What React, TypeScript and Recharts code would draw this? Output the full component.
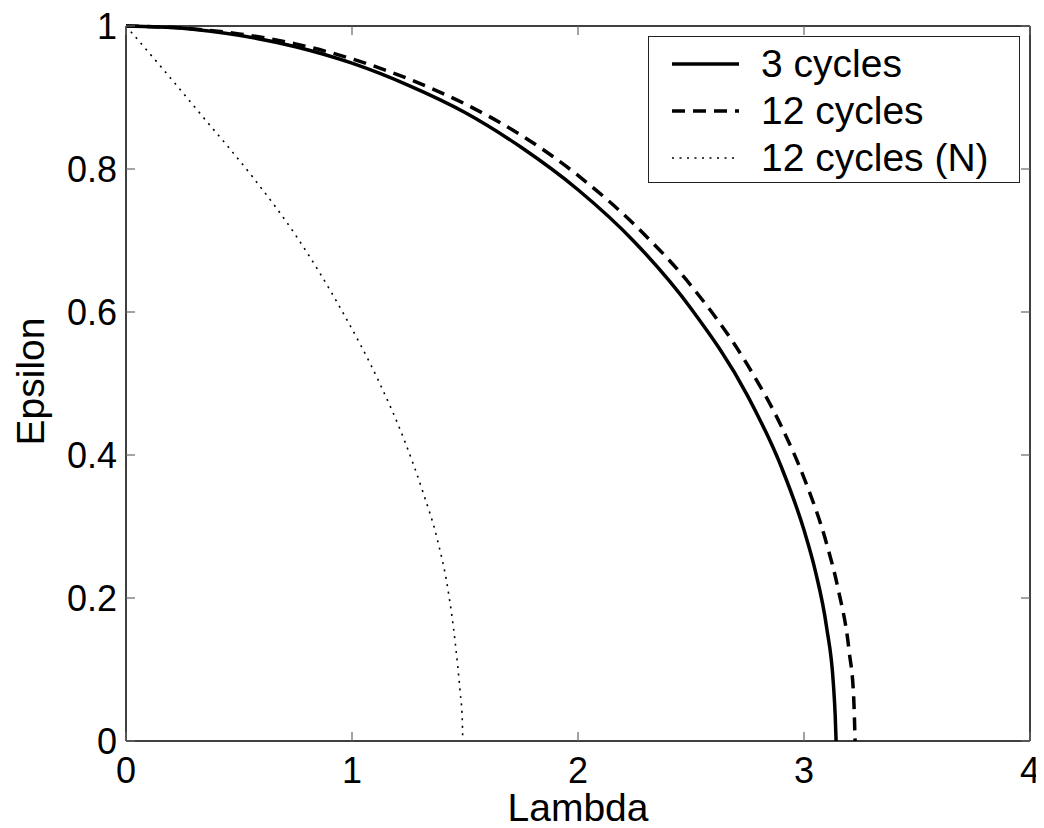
import React from 'react';
import { LineChart, Line, XAxis, YAxis, Legend, Label } from 'recharts';

// lambda / epsilon pairs
const SOLID_LAMBDA = [0, 0.25, 0.5, 0.75, 1.0, 1.25, 1.5, 1.75, 2.0, 2.25, 2.5, 2.75, 2.9, 3.0, 3.05, 3.1, 3.13, 3.138, 3.142];
const SOLID_EPS = [1, 0.997, 0.987, 0.971, 0.948, 0.917, 0.879, 0.83, 0.771, 0.698, 0.605, 0.483, 0.383, 0.295, 0.238, 0.159, 0.08, 0.036, 0];

const DASH_LAMBDA = [0, 0.25, 0.5, 0.75, 1.0, 1.25, 1.5, 1.75, 2.0, 2.25, 2.5, 2.75, 2.9, 3.0, 3.1, 3.15, 3.2, 3.22, 3.226];
const DASH_EPS = [1, 0.997, 0.989, 0.975, 0.954, 0.926, 0.891, 0.847, 0.791, 0.722, 0.637, 0.526, 0.44, 0.368, 0.276, 0.214, 0.125, 0.06, 0];

const DOT_LAMBDA = [0, 0.16, 0.34, 0.56, 0.76, 0.96, 1.12, 1.235, 1.315, 1.375, 1.425, 1.457, 1.478, 1.488, 1.49];
const DOT_EPS = [1, 0.941, 0.873, 0.789, 0.703, 0.599, 0.502, 0.418, 0.347, 0.285, 0.211, 0.137, 0.07, 0.03, 0];

const X_TICKS = [0, 1, 2, 3, 4];
const Y_TICKS = [0, 0.2, 0.4, 0.6, 0.8, 1];

const SERIES_NAMES = ['3 cycles', '12 cycles', '12 cycles (N)'];
const SERIES_DASH = [undefined, '13 8', '2 5.5'];
const SERIES_WIDTH = [3.5, 3.5, 1.6];
// top/right axes share the same domain & range as bottom/left; the dotted curve
// is bound to them so those axes get data and draw their tick marks
const SERIES_X_AXIS = ['bottom', 'bottom', 'top'];
const SERIES_Y_AXIS = ['left', 'left', 'right'];

const FONT = '"Liberation Sans", Arial, Helvetica, sans-serif';
const TICK_COLOR = '#666';
const TICK_LEN = 9;

const toPoints = (xs: number[], ys: number[]) => xs.map((x, i) => ({ lambda: x, eps: ys[i] }));

const seriesData = [
  toPoints(SOLID_LAMBDA, SOLID_EPS),
  toPoints(DASH_LAMBDA, DASH_EPS),
  toPoints(DOT_LAMBDA, DOT_EPS),
];

// tick marks point inwards on every side, matlab style
const BottomTick = (props: any) => {
  const { x, y, payload } = props;
  return (
    <g>
      <line x1={x} x2={x} y1={y} y2={y - TICK_LEN} stroke={TICK_COLOR} strokeWidth={1.2} />
      <text x={x} y={y + 42} textAnchor="middle" fontSize={36} fontFamily={FONT} fill="#000">
        {payload.value}
      </text>
    </g>
  );
};

const TopTick = (props: any) => {
  const { x, y } = props;
  return <line x1={x} x2={x} y1={y} y2={y + TICK_LEN} stroke={TICK_COLOR} strokeWidth={1.2} />;
};

const LeftTick = (props: any) => {
  const { x, y, payload } = props;
  return (
    <g>
      <line x1={x} x2={x + TICK_LEN} y1={y} y2={y} stroke={TICK_COLOR} strokeWidth={1.2} />
      <text x={x - 9} y={y + 13} textAnchor="end" fontSize={36} fontFamily={FONT} fill="#000">
        {payload.value}
      </text>
    </g>
  );
};

const RightTick = (props: any) => {
  const { x, y } = props;
  return <line x1={x} x2={x - TICK_LEN} y1={y} y2={y} stroke={TICK_COLOR} strokeWidth={1.2} />;
};

const LegendBox = () => (
  <div
    style={{
      width: 372,
      height: 147,
      boxSizing: 'border-box',
      border: '1.5px solid #222',
      background: '#fff',
      fontFamily: FONT,
      fontSize: 39,
      position: 'relative',
    }}
  >
    {SERIES_NAMES.map((name, i) => (
      <div
        key={name}
        style={{ position: 'absolute', left: 0, top: 5 + i * 47, height: 44, display: 'flex', alignItems: 'center' }}
      >
        <svg width={112} height={44}>
          <line
            x1={23}
            x2={90}
            y1={22}
            y2={22}
            stroke="#000"
            strokeWidth={SERIES_WIDTH[i]}
            strokeDasharray={SERIES_DASH[i]}
          />
        </svg>
        <span style={{ lineHeight: '44px', color: '#000' }}>{name}</span>
      </div>
    ))}
  </div>
);

export default function App() {
  return (
    <LineChart width={1028} height={820} margin={{ top: 17, right: 5, left: 0, bottom: 0 }}>
      <XAxis
        xAxisId="bottom"
        dataKey="lambda"
        type="number"
        domain={[0, 4]}
        ticks={X_TICKS}
        orientation="bottom"
        height={87}
        tickLine={false}
        tickSize={0}
        tickMargin={0}
        axisLine={{ stroke: '#000', strokeWidth: 1.5 }}
        tick={(p: any) => <BottomTick {...p} />}
        interval={0}
      >
        <Label
          content={(p: any) => {
            const vb = p.viewBox;
            return (
              <text x={vb.x + vb.width / 2} y={vb.y + vb.height - 7} textAnchor="middle" fontSize={39} fontFamily={FONT} fill="#000">
                Lambda
              </text>
            );
          }}
        />
      </XAxis>
      <XAxis
        xAxisId="top"
        dataKey="lambda"
        type="number"
        domain={[0, 4]}
        ticks={X_TICKS}
        orientation="top"
        height={1}
        tickLine={false}
        tickSize={0}
        tickMargin={0}
        axisLine={{ stroke: '#000', strokeWidth: 1.5 }}
        tick={(p: any) => <TopTick {...p} />}
        interval={0}
      />
      <YAxis
        yAxisId="left"
        type="number"
        domain={[0, 1]}
        ticks={Y_TICKS}
        width={118}
        tickLine={false}
        tickSize={0}
        tickMargin={0}
        axisLine={{ stroke: '#000', strokeWidth: 1.5 }}
        tick={(p: any) => <LeftTick {...p} />}
        interval={0}
      >
        <Label
          content={(p: any) => {
            const vb = p.viewBox;
            const cx = vb.x + 36;
            const cy = vb.y + vb.height / 2 - 2;
            return (
              <text x={cx} y={cy} transform={`rotate(-90, ${cx}, ${cy})`} textAnchor="middle" fontSize={39} fontFamily={FONT} fill="#000">
                Epsilon
              </text>
            );
          }}
        />
      </YAxis>
      <YAxis
        yAxisId="right"
        type="number"
        orientation="right"
        domain={[0, 1]}
        ticks={Y_TICKS}
        width={1}
        tickLine={false}
        tickSize={0}
        tickMargin={0}
        axisLine={{ stroke: '#000', strokeWidth: 1.5 }}
        tick={(p: any) => <RightTick {...p} />}
        interval={0}
      />
      {seriesData.map((d, i) => (
        <Line
          key={SERIES_NAMES[i]}
          name={SERIES_NAMES[i]}
          data={d}
          dataKey="eps"
          xAxisId={SERIES_X_AXIS[i]}
          yAxisId={SERIES_Y_AXIS[i]}
          type="monotone"
          stroke="#000"
          strokeWidth={SERIES_WIDTH[i]}
          strokeDasharray={SERIES_DASH[i]}
          dot={false}
          activeDot={false}
          isAnimationActive={false}
        />
      ))}
      <Legend
        layout="horizontal"
        verticalAlign="middle"
        align="center"
        content={() => <LegendBox />}
        wrapperStyle={{ position: 'absolute', left: 640, top: 28, width: 372, height: 147 }}
      />
    </LineChart>
  );
}
